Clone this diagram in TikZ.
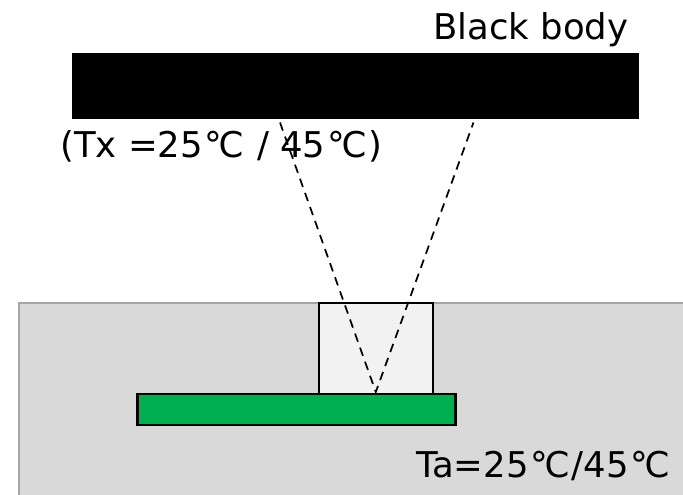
\documentclass[tikz,border=0pt]{standalone}
\usepackage{fontspec}
\setmainfont{DejaVu Sans}
\newcommand{\degC}{\kern1.4pt ℃\kern1pt}
\definecolor{boardgreen}{HTML}{00B050}
\definecolor{roomgrey}{HTML}{D9D9D9}
\definecolor{roomedge}{HTML}{A6A6A6}
\definecolor{winfill}{HTML}{F2F2F2}
\tikzset{
  px/.style={x=0.75pt,y=-0.75pt},
  box/.style={inner sep=0pt,outer sep=0pt,anchor=north west},
  lab/.style={inner sep=0pt,anchor=base west,font=\fontsize{26.6}{30}\selectfont,text=black},
  ray/.style={draw=black,line width=1.3pt,dash pattern=on 6.5pt off 4.7pt}
}
\begin{document}
\begin{tikzpicture}[px]
\useasboundingbox (0,0) rectangle (683,494);
\path[fill=white] (0,0) rectangle (683,494);
\node[box,draw=roomedge,fill=roomgrey,line width=1.1pt,minimum width=0.75*670pt,minimum height=0.75*197pt] (room) at (19,303) {};
\node[box,draw=black,fill=winfill,line width=1.7pt,minimum width=0.75*114pt,minimum height=0.75*91pt] (window) at (319,303) {};
\node[box,draw=black,fill=boardgreen,line width=1.7pt,minimum width=0.75*318pt,minimum height=0.75*31.5pt] (board) at (137.5,393.7) {};
\node[box,fill=black,minimum width=0.75*567pt,minimum height=0.75*66pt] (body) at (72,53) {};
\node[lab] (t1) at (433,39.5) {Black body};
\node[lab] (t2) at (60,157) {(Tx =25\degC{} / 45\degC)};
\node[lab] (t3) at (416,477) {Ta=25\degC/45\degC};
\coordinate (apex) at (375.8,392);
\coordinate (rayl) at (280,122.5);
\coordinate (rayr) at (473.5,122.5);
\draw[ray] (rayl) -- (apex) -- (rayr);
\end{tikzpicture}
\end{document}
